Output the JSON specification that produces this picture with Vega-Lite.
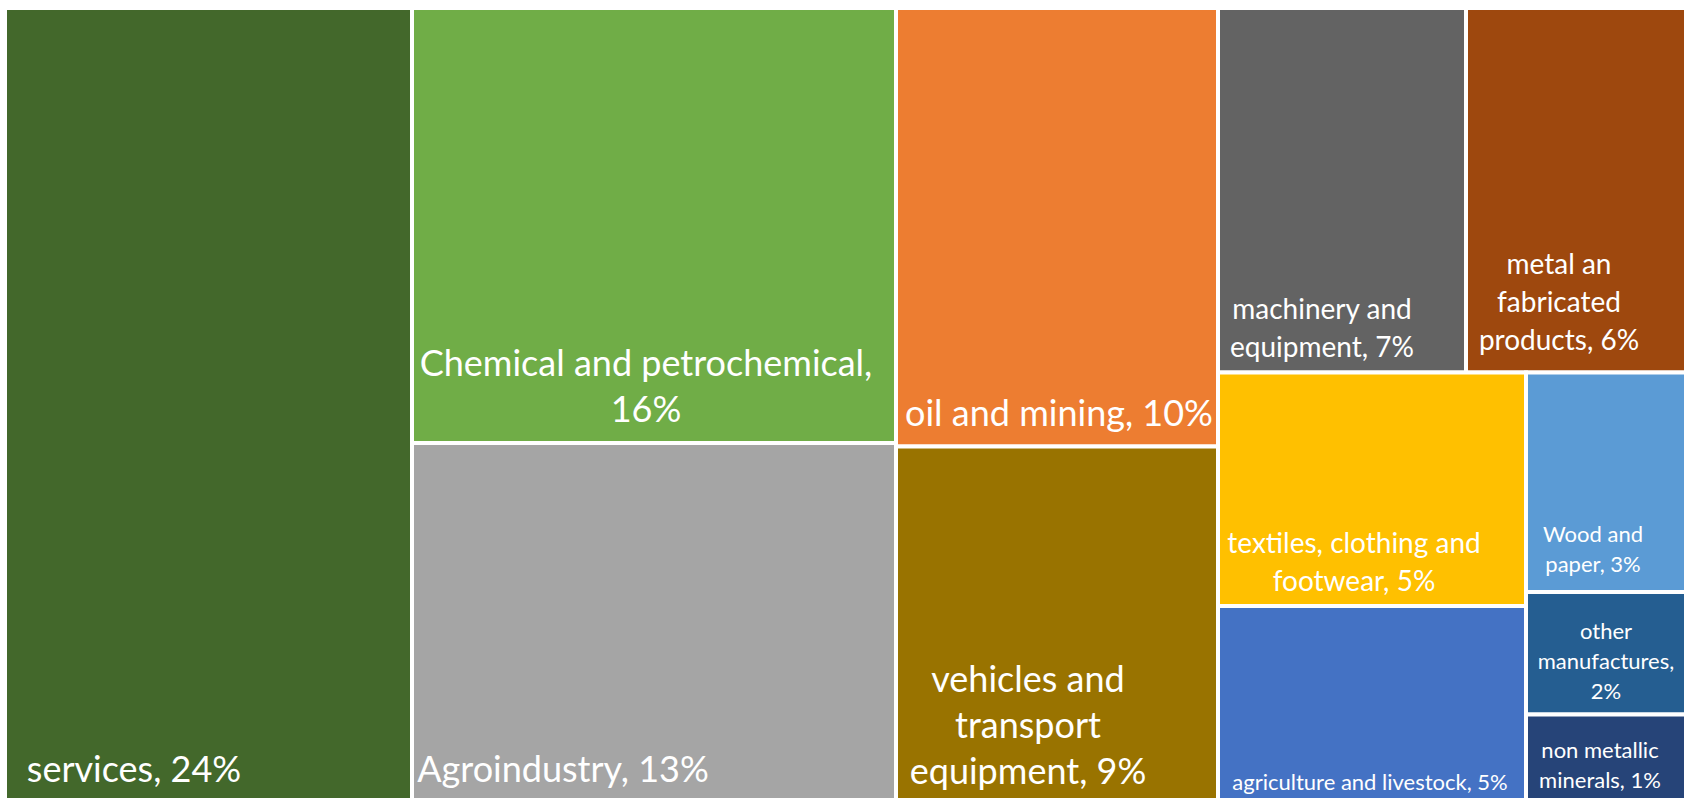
{
  "$schema": "https://vega.github.io/schema/vega-lite/v6.json",
  "width": 1684,
  "height": 798,
  "autosize": {"type": "none"},
  "padding": 0,
  "background": "#ffffff",
  "config": {"view": {"stroke": null}},
  "data": {
    "values": [
      {"name": "services", "share": 24, "label": "services, 24%", "x0": 5, "x1": 412, "y0": 8, "y1": 800, "lx": 134, "ly": 771},
      {"name": "Chemical and petrochemical", "share": 16, "label": "Chemical and petrochemical,\n16%", "x0": 412, "x1": 896, "y0": 8, "y1": 443, "lx": 646, "ly": 365},
      {"name": "Agroindustry", "share": 13, "label": "Agroindustry, 13%", "x0": 412, "x1": 896, "y0": 443, "y1": 800, "lx": 563, "ly": 771},
      {"name": "oil and mining", "share": 10, "label": "oil and mining, 10%", "x0": 896, "x1": 1218, "y0": 8, "y1": 446.5, "lx": 1059, "ly": 415},
      {"name": "vehicles and transport equipment", "share": 9, "label": "vehicles and\ntransport\nequipment, 9%", "x0": 896, "x1": 1218, "y0": 446.5, "y1": 800, "lx": 1028, "ly": 681},
      {"name": "machinery and equipment", "share": 7, "label": "machinery and\nequipment, 7%", "x0": 1218, "x1": 1466, "y0": 8, "y1": 372.5, "lx": 1322, "ly": 311},
      {"name": "metal an fabricated products", "share": 6, "label": "metal an\nfabricated\nproducts, 6%", "x0": 1466, "x1": 1690, "y0": 8, "y1": 372.5, "lx": 1559, "ly": 266},
      {"name": "textiles, clothing and footwear", "share": 5, "label": "textiles, clothing and\nfootwear, 5%", "x0": 1218, "x1": 1526, "y0": 372.5, "y1": 606, "lx": 1354, "ly": 545},
      {"name": "agriculture and livestock", "share": 5, "label": "agriculture and livestock, 5%", "x0": 1218, "x1": 1526, "y0": 606, "y1": 800, "lx": 1370, "ly": 783},
      {"name": "Wood and paper", "share": 3, "label": "Wood and\npaper, 3%", "x0": 1526, "x1": 1690, "y0": 372.5, "y1": 592, "lx": 1593, "ly": 535},
      {"name": "other manufactures", "share": 2, "label": "other\nmanufactures,\n2%", "x0": 1526, "x1": 1690, "y0": 592, "y1": 714.5, "lx": 1606, "ly": 632},
      {"name": "non metallic minerals", "share": 1, "label": "non metallic\nminerals, 1%", "x0": 1526, "x1": 1690, "y0": 714.5, "y1": 800, "lx": 1600, "ly": 751}
    ]
  },
  "layer": [
    {
      "mark": {"type": "rect", "stroke": "#ffffff", "strokeWidth": 4, "clip": true},
      "encoding": {
        "x": {"field": "x0", "type": "quantitative", "axis": null, "scale": {"domain": [0, 1684], "zero": false, "nice": false}},
        "x2": {"field": "x1"},
        "y": {"field": "y0", "type": "quantitative", "axis": null, "scale": {"domain": [0, 798], "zero": false, "nice": false, "reverse": true}},
        "y2": {"field": "y1"},
        "color": {
          "field": "name", "type": "nominal", "legend": null,
          "scale": {
            "domain": ["services", "Chemical and petrochemical", "Agroindustry", "oil and mining", "vehicles and transport equipment", "machinery and equipment", "metal an fabricated products", "textiles, clothing and footwear", "agriculture and livestock", "Wood and paper", "other manufactures", "non metallic minerals"],
            "range": ["#43682b", "#70ad47", "#a5a5a5", "#ed7d31", "#997300", "#636363", "#9e480e", "#ffc000", "#4472c4", "#5b9bd5", "#255e91", "#264478"]
          }
        }
      }
    },
    {
      "transform": [{"filter": {"field": "name", "oneOf": ["services", "Chemical and petrochemical", "Agroindustry", "oil and mining", "vehicles and transport equipment"]}}],
      "mark": {"type": "text", "font": "Lato", "fontSize": 36, "lineHeight": 46, "lineBreak": "\n", "align": "center", "baseline": "middle", "color": "#ffffff"},
      "encoding": {
        "x": {"field": "lx", "type": "quantitative"},
        "y": {"field": "ly", "type": "quantitative"},
        "text": {"field": "label"}
      }
    },
    {
      "transform": [{"filter": {"field": "name", "oneOf": ["machinery and equipment", "metal an fabricated products", "textiles, clothing and footwear"]}}],
      "mark": {"type": "text", "font": "Lato", "fontSize": 28, "lineHeight": 38, "lineBreak": "\n", "align": "center", "baseline": "middle", "color": "#ffffff"},
      "encoding": {
        "x": {"field": "lx", "type": "quantitative"},
        "y": {"field": "ly", "type": "quantitative"},
        "text": {"field": "label"}
      }
    },
    {
      "transform": [{"filter": {"field": "name", "oneOf": ["agriculture and livestock", "Wood and paper", "other manufactures", "non metallic minerals"]}}],
      "mark": {"type": "text", "font": "Lato", "fontSize": 22, "lineHeight": 30, "lineBreak": "\n", "align": "center", "baseline": "middle", "color": "#ffffff"},
      "encoding": {
        "x": {"field": "lx", "type": "quantitative"},
        "y": {"field": "ly", "type": "quantitative"},
        "text": {"field": "label"}
      }
    }
  ]
}
